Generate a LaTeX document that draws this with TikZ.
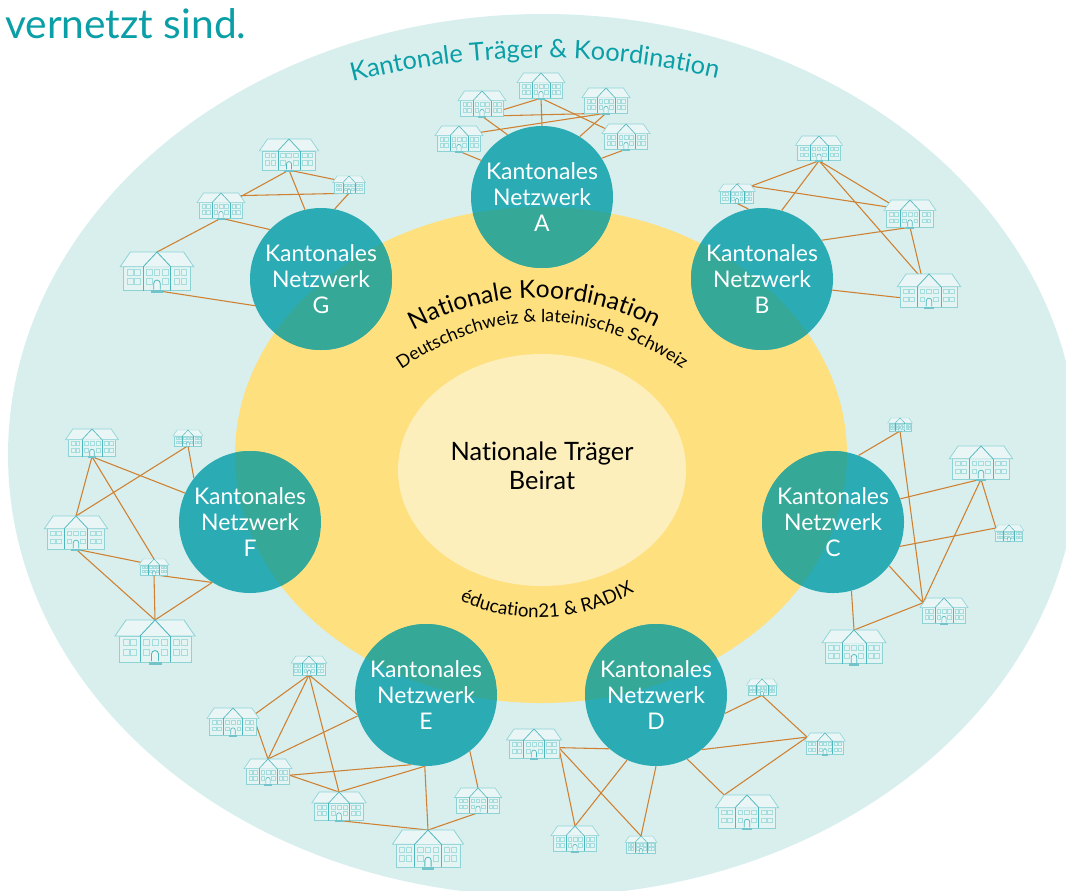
\documentclass[tikz,border=0pt]{standalone}
\usepackage{fontspec}
\setmainfont[Ligatures=NoCommon]{Lato}
\usetikzlibrary{shapes.geometric,decorations.text}

\definecolor{aussen}{HTML}{D8EFEE}
\definecolor{gelb}{HTML}{FEE07F}
\definecolor{hellgelb}{HTML}{FDEFBB}
\definecolor{netzteal}{HTML}{2BACB5}
\definecolor{netzdark}{HTML}{35A898}
\definecolor{titelteal}{HTML}{0A9EA6}
\definecolor{linkbraun}{HTML}{CF8030}
\definecolor{hausline}{HTML}{8DD3D5}
\definecolor{fensterline}{HTML}{A5DCDD}
\definecolor{giebelline}{HTML}{4DB7BD}
\definecolor{hausdach}{HTML}{EAF6F6}
\definecolor{hauskorper}{HTML}{E3F4F3}

\tikzset{
    netz/.style={circle, fill=netzteal, text=white, minimum size=106.5pt, inner sep=0,
        align=center, font=\fontsize{17.2}{19.5}\selectfont,
        path picture={
            \clip (natKoord.center) ellipse [x radius=229.5pt, y radius=186pt];
            \fill[netzdark] (path picture bounding box.south west) rectangle (path picture bounding box.north east);
        }},
    link/.style={draw=linkbraun, line width=0.8pt},
    schoolhouse/.pic={
        \draw[hausline, fill=hauskorper] (-36,16) rectangle (36,42);
        \draw[hausline, fill=hausdach] (-40,16) -- (-29,0) -- (29,0) -- (40,16) -- cycle;
        \draw[giebelline, fill=hausdach] (-15,16) -- (0,0) -- (15,16);
        \draw[giebelline] (-15,16) -- (-15,42) (15,16) -- (15,42);
        \foreach \wx in {-32,-24.5,18.5,26} {
            \draw[fensterline] (\wx,19) rectangle ++(6,6);
            \draw[fensterline] (\wx,29) rectangle ++(6,6);
        }
        \foreach \wx in {-11.5,-3,6}
            \draw[fensterline] (\wx,19) rectangle ++(6,6);
        \foreach \wx in {-11.5,6}
            \draw[fensterline] (\wx,29) rectangle ++(6,6);
        \draw[giebelline, fill=hausdach] (-3.5,41) -- (-3.5,34) arc [start angle=180, end angle=360, radius=3.5] -- (3.5,41);
        \fill[giebelline!80] (-6.5,41.5) rectangle (6.5,44.5);
    }
}

\newcommand{\houselist}{
    a1/541/73/.6, a2/482/91/.6, a3/606/88/.6, a4/459/126/.6, a5/626/124/.6,
    b1/819/136/.59, b2/737/184/.46, b3/910/200/.65, b4/929/274/.79,
    c1/900/418/.31, c2/981/446/.79, c3/1009/525/.375, c4/944/598/.6, c5/854/630/.8,
    d1/534/729/.69, d2/575/826/.6, d3/641/836/.4, d4/747/795/.79, d5/825/733/.51, d6/762/679/.39,
    e1/309/656/.45, e2/233/708/.65, e3/268/759/.6, e4/339/792/.68, e5/478/788/.59, e6/428/830/.89,
    f1/92/429/.66, f2/188/430/.375, f3/76/516/.79, f4/154/559/.375, f5/155/620/1,
    g1/289/139/.74, g2/349/176/.41, g3/221/193/.6, g4/157/252/.92}

\begin{document}
\begin{tikzpicture}[x=0.75pt, y=-0.75pt]
    \useasboundingbox (0,0) rectangle (1066,890);
    \clip (0,0) rectangle (1066,890);

    \node[ellipse, fill=aussen, minimum width=802.5pt, minimum height=661.5pt, inner sep=0] (kantTraeger) at (543,455) {};
    \node[ellipse, fill=gelb, minimum width=459pt, minimum height=372pt, inner sep=0] (natKoord) at (541,455) {};
    \node[ellipse, fill=hellgelb, minimum width=216pt, minimum height=174pt, inner sep=0, align=center,
        font=\fontsize{19}{21.75}\selectfont] (natTraeger) at (542,470) {Nationale Träger\\Beirat\rule[-6pt]{0pt}{6pt}};

    \node[anchor=base west, inner sep=0, text=titelteal, font=\fontsize{30.5}{30.5}\selectfont] (titel) at (5,38) {vernetzt sind.};

    \path[decorate, decoration={text along path, text align=center,
        text={|\fontsize{19}{19}\selectfont\color{titelteal}|Kantonale Träger {\&} Koordination}}]
        (345,84) .. controls (470,50) and (600,50) .. (725,80);
    \path[decorate, decoration={text along path, text align=center,
        text={|\fontsize{18.5}{18.5}\selectfont|Nationale Koordination}}]
        (405,335) .. controls (490,286) and (580,286) .. (665,332);
    \path[decorate, decoration={text along path, text align=center,
        text={|\fontsize{13.4}{13.4}\selectfont|Deutschschweiz {\&} lateinische Schweiz}}]
        (392,376) .. controls (490,304) and (594,304) .. (692,376);
    \path[decorate, decoration={text along path, text align=center,
        text={|\fontsize{14}{14}\selectfont|éducation21 {\&} RADIX}}]
        (456,599) .. controls (510,625) and (580,625) .. (638,590);

    \node[netz] (netA) at (542,197) {Kantonales\\Netzwerk\\A};
    \node[netz] (netB) at (762,279) {Kantonales\\Netzwerk\\B};
    \node[netz] (netC) at (833,522) {Kantonales\\Netzwerk\\C};
    \node[netz] (netD) at (656,695) {Kantonales\\Netzwerk\\D};
    \node[netz] (netE) at (426,695) {Kantonales\\Netzwerk\\E};
    \node[netz] (netF) at (250,522) {Kantonales\\Netzwerk\\F};
    \node[netz] (netG) at (321,279) {Kantonales\\Netzwerk\\G};

    \foreach \n/\x/\y/\s in \houselist {
        \coordinate (\n-top) at (\x,\y);
        \coordinate (\n-corner) at (\x-29*\s,\y);
        \coordinate (\n-left) at (\x-35*\s,\y+8*\s);
        \coordinate (\n-right) at (\x+36*\s,\y+27*\s);
        \coordinate (\n-up) at (\x,\y+5*\s);
        \coordinate (\n-roof) at (\x,\y+16*\s);
        \coordinate (\n-mid) at (\x,\y+24*\s);
        \coordinate (\n-low) at (\x,\y+34*\s);
        \coordinate (\n-door) at (\x,\y+42*\s);
    }

    \foreach \p/\q in {a1-door/a2-door, a1-door/a5-mid, a1-door/netA.90, a2-door/a3-door, a2-door/netA.119,
        a3-door/a4-roof, a3-door/netA.58, a4-door/netA.149, a5-door/netA.33,
        b1-door/b2-roof, b1-door/netB.74, b1-door/b3-mid, b1-door/b4-roof, b2-top/b3-roof, b2-door/netB.101,
        b3-door/netB.33, b3-door/b4-door, b4-low/netB.-9,
        c1-door/netC.69, c1-door/c4-left, c2-door/netC.19, c2-door/c3-left, c2-door/c4-left, c3-left/netC.-20,
        c4-left/netC.-38, c4-left/c5-top, c5-top/netC.-75,
        d1-right/netD.229, d1-right/d2-top, d1-right/d3-top, d2-top/netD.246, d3-top/netD.270,
        d4-corner/netD.-64, d4-corner/d5-left, d5-left/d6-door, d5-left/netD.-50, d6-door/netD.-15,
        e1-door/e2-low, e1-door/e3-top, e1-door/e4-top, e1-door/netE.196, e2-right/e3-top, e3-top/netE.197,
        e3-right/netE.258, e3-right/e4-top, e4-top/netE.269, e4-door/e6-top, e6-top/netE.269, e6-top/e5-door, e5-top/netE.-52,
        f1-door/f3-top, f1-door/f4-top, f1-door/netF.156, f2-door/f3-top, f2-door/netF.142, f3-door/f4-roof,
        f3-door/f5-top, f4-door/f5-top, f4-door/netF.238, f5-top/netF.238,
        g1-door/g3-mid, g1-door/g2-roof, g1-door/netG.103, g2-door/g3-up, g2-door/netG.79, g3-door/g4-top,
        g3-door/netG.136, g4-door/netG.202}
        \draw[link] (\p) -- (\q);

    \foreach \n/\x/\y/\s in \houselist
        \pic[scale=\s, line width={0.15pt+0.5pt*\s}] at (\x,\y) {schoolhouse};
\end{tikzpicture}
\end{document}
